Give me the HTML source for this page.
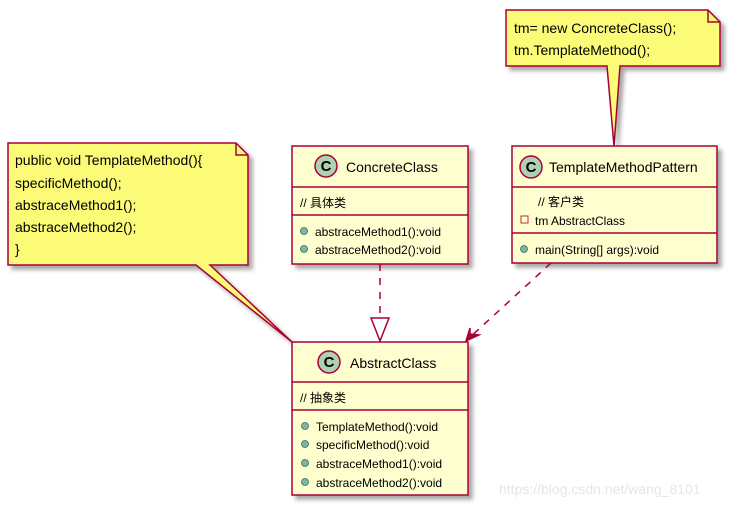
<!DOCTYPE html>
<html><head><meta charset="utf-8"><style>
html,body{margin:0;padding:0;background:#fff;}
svg{display:block;}
text{font-family:"Liberation Sans","Noto Sans CJK SC",sans-serif;fill:#000;}
</style></head><body>
<svg width="735" height="507" viewBox="0 0 735 507" xmlns="http://www.w3.org/2000/svg">
<defs>
<filter id="sh" x="-10%" y="-10%" width="130%" height="130%"><feGaussianBlur in="SourceAlpha" stdDeviation="2"/><feOffset dx="4" dy="4"/><feComponentTransfer><feFuncA type="linear" slope="0.35"/></feComponentTransfer><feMerge><feMergeNode/><feMergeNode in="SourceGraphic"/></feMerge></filter>
</defs>
<g stroke="#A80036" stroke-width="1.5">
<!-- note 2 -->
<path d="M506,10 L708,10 L720,22 L720,66 L620,66 L614,146 L607,66 L506,66 Z" fill="#FBFB77" filter="url(#sh)"/>
<path d="M708,10 L708,22 L720,22" fill="none"/>
<!-- note 1 -->
<path d="M8,143 L236,143 L248,155 L248,265 L210,265 L292,342 L196,265 L8,265 Z" fill="#FBFB77" filter="url(#sh)"/>
<path d="M236,143 L236,155 L248,155" fill="none"/>
<!-- ConcreteClass -->
<rect x="292" y="146" width="176" height="118" fill="#FEFECE" filter="url(#sh)"/>
<line x1="292" y1="187" x2="468" y2="187"/>
<line x1="292" y1="215" x2="468" y2="215"/>
<!-- TemplateMethodPattern -->
<rect x="512" y="146" width="205" height="117" fill="#FEFECE" filter="url(#sh)"/>
<line x1="512" y1="187" x2="717" y2="187"/>
<line x1="512" y1="233" x2="717" y2="233"/>
<!-- AbstractClass -->
<rect x="292" y="342" width="176" height="153" fill="#FEFECE" filter="url(#sh)"/>
<line x1="292" y1="382" x2="468" y2="382"/>
<line x1="292" y1="410" x2="468" y2="410"/>
<!-- connectors -->
<line x1="380" y1="264" x2="380" y2="318" stroke-dasharray="7,7" fill="none"/>
<path d="M371,318 L389,318 L380,341 Z" fill="#fff"/>
<line x1="551" y1="263" x2="468" y2="339" stroke-dasharray="7,7" fill="none"/>
<path d="M466,341 L470,328 L470,334 L479,335 Z" fill="#A80036"/>
<!-- circles -->
<circle cx="326" cy="166" r="11" fill="#ADD1B2"/>
<circle cx="531" cy="167" r="11" fill="#ADD1B2"/>
<circle cx="329" cy="362" r="11" fill="#ADD1B2"/>
</g>
<g font-size="15" font-weight="bold" text-anchor="middle">
<text x="326" y="171">C</text><text x="531" y="172">C</text><text x="329" y="367">C</text>
</g>
<g font-size="14">
<text x="346" y="172">ConcreteClass</text>
<text x="549" y="172">TemplateMethodPattern</text>
<text x="350" y="368">AbstractClass</text>
<text x="514" y="33">tm= new ConcreteClass();</text>
<text x="514" y="55">tm.TemplateMethod();</text>
<text x="15" y="165">public void TemplateMethod(){</text>
<text x="15" y="188"> specificMethod();</text>
<text x="15" y="210"> abstraceMethod1();</text>
<text x="15" y="232"> abstraceMethod2();</text>
<text x="15" y="254">}</text>
</g>
<g font-size="12">
<text x="300" y="207">// 具体类</text>
<text x="315" y="236">abstraceMethod1():void</text>
<text x="315" y="254">abstraceMethod2():void</text>
<text x="538" y="206">// 客户类</text>
<text x="535" y="225">tm AbstractClass</text>
<text x="535" y="254">main(String[] args):void</text>
<text x="300" y="402">// 抽象类</text>
<text x="316" y="431">TemplateMethod():void</text>
<text x="316" y="449">specificMethod():void</text>
<text x="316" y="468">abstraceMethod1():void</text>
<text x="316" y="487">abstraceMethod2():void</text>
</g>
<g fill="#84B1A4" stroke="#1F7A5A" stroke-width="0.8">
<circle cx="304" cy="231" r="3.5"/><circle cx="304" cy="249" r="3.5"/>
<circle cx="524" cy="249" r="3.5"/>
<circle cx="305" cy="426" r="3.5"/><circle cx="305" cy="444" r="3.5"/><circle cx="305" cy="463" r="3.5"/><circle cx="305" cy="482" r="3.5"/>
</g>
<rect x="521" y="216" width="7" height="7" fill="none" stroke="#C82930" stroke-width="1"/>
<text x="499" y="494" font-size="14" style="fill:#e6e6e6">https://blog.csdn.net/wang_8101</text>
</svg>
</body></html>
